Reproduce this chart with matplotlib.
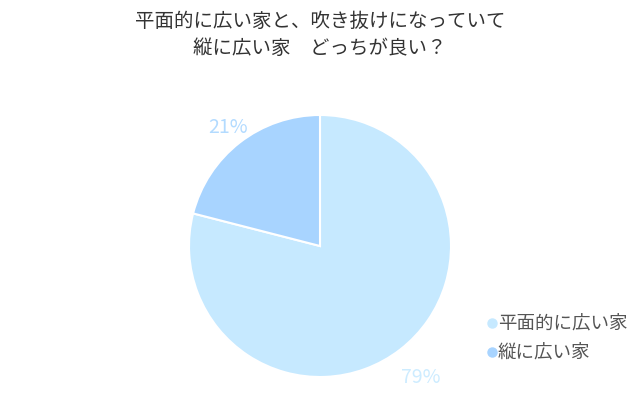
import matplotlib
matplotlib.use("Agg")
import numpy as np
import matplotlib.pyplot as plt

plt.rcParams['font.family'] = ['Noto Sans CJK JP', 'DejaVu Sans']

title = "平面的に広い家と、吹き抜けになっていて\n縦に広い家　どっちが良い？"
labels = ["平面的に広い家", "縦に広い家"]
values = [79, 21]
colors = ["#c6e9ff", "#a8d4ff"]
label_colors = ["#cdecff", "#b3dbff"]

CX, CY, R = 320, 163, 131

fig = plt.figure(figsize=(6.4, 4.1), dpi=100)
ax = fig.add_axes([0, 0, 1, 1])

wedges, texts = ax.pie(values, colors=colors, startangle=90, counterclock=False,
                       center=(CX, CY), radius=R, frame=True,
                       wedgeprops=dict(edgecolor="white", linewidth=1.5),
                       labels=[f"{v}%" for v in values],
                       textprops=dict(fontsize=14))
# percentage labels sit a bit further out than default
for w, t, c, d in zip(wedges, texts, label_colors, [1.26, 1.15]):
    ang = np.deg2rad((w.theta1 + w.theta2) / 2)
    t.set_position((CX + d * R * np.cos(ang), CY + d * R * np.sin(ang)))
    t.set_ha("center")
    t.set_va("center")
    t.set_color(c)
ax.set_xlim(0, 640)
ax.set_ylim(0, 410)
ax.axis("off")

fig.text(0.5, 0.915, title, ha="center", va="center", fontsize=14,
         color="#333333", linespacing=1.38)

# legend
for i, (lab, c) in enumerate(zip(labels, colors)):
    y = 410 - 324 - i * 29
    ax.plot(492, y, "o", color=c, markersize=6.5)
    ax.text(498, y, lab, fontsize=13.3, color="#555555", va="center", ha="left")

fig.savefig("out.png", dpi=100)
